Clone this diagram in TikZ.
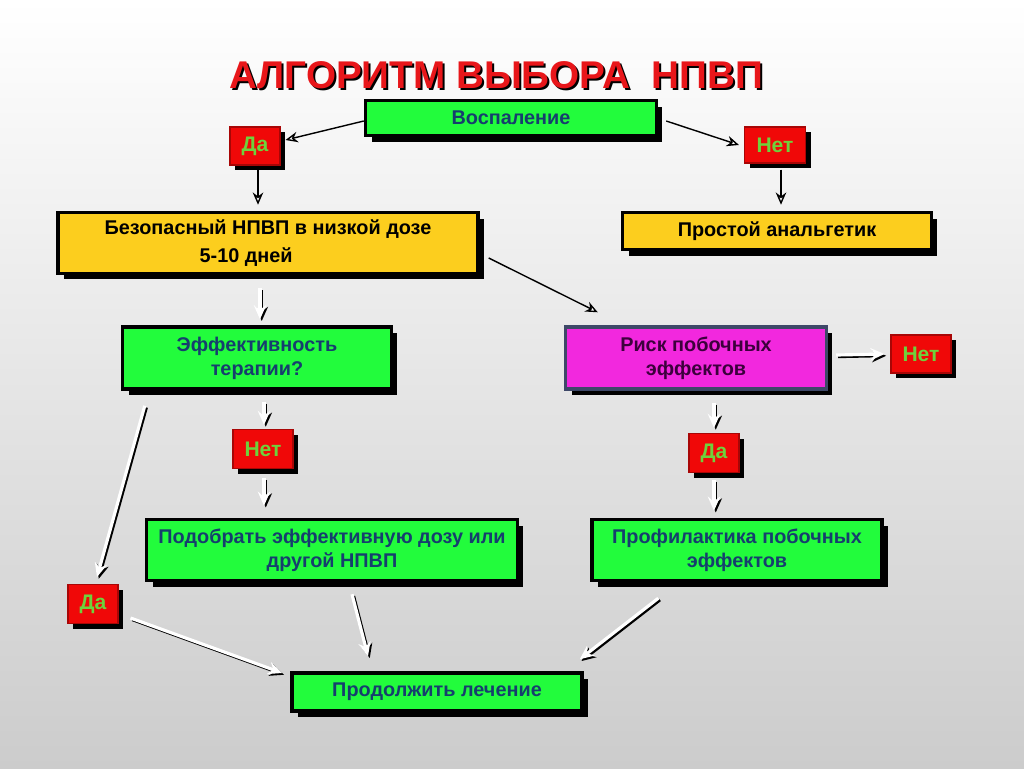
\documentclass[tikz,border=0pt]{standalone}
\usepackage{fontspec}
\setmainfont{Liberation Sans}
\usetikzlibrary{arrows.meta,shadows}
\definecolor{verdevivo}{RGB}{34,252,60}
\definecolor{amarillo}{RGB}{252,206,30}
\definecolor{magenta}{RGB}{242,40,222}
\definecolor{rojo}{RGB}{240,8,8}
\definecolor{textoazul}{RGB}{22,62,110}
\definecolor{textoverde}{RGB}{110,210,60}
\definecolor{textomorado}{RGB}{60,0,60}
\definecolor{pizarra}{RGB}{62,72,104}
\definecolor{titulorojo}{RGB}{232,22,26}
\tikzset{
  caja/.style={
    draw=black,
    line width=2pt,
    align=center,
    inner sep=2pt,
    font=\fontsize{11.3}{13.5}\selectfont\bfseries,
    drop shadow={shadow xshift=0.12cm, shadow yshift=-0.12cm, fill=black, opacity=1}
  },
  verde/.style={caja, fill=verdevivo, text=textoazul},
  amarilla/.style={caja, fill=amarillo, text=black},
  rosa/.style={caja, fill=magenta, draw=pizarra, text=textomorado},
  resp/.style={
    draw=rojo!70!black,
    line width=0.6pt,
    fill=rojo,
    text=textoverde,
    inner sep=0pt,
    font=\fontsize{12}{14}\selectfont\bfseries,
    drop shadow={shadow xshift=0.1cm, shadow yshift=-0.1cm, fill=black, opacity=1}
  },
  titulo/.style={
    font=\fontsize{22}{25}\selectfont\bfseries,
    text=titulorojo
  },
  arrow/.style={
    draw=white,
    line width=1.8pt,
    -{Stealth[length=8pt,width=7pt,fill=white]},
    preaction={draw=black, line width=1.6pt, -{Stealth[length=8pt,width=7pt]},
      transform canvas={shift={(1pt,-1pt)}}}
  },
  linea/.style={
    draw=black,
    line width=0.8pt,
    -{Stealth[length=7pt,width=6pt,fill=white]}
  }
}
\begin{document}
\begin{tikzpicture}[x=0.02cm,y=-0.02cm]
\shade[top color=white, bottom color=black!20] (0,0) rectangle (1024,768);
\useasboundingbox (0,0) rectangle (1024,768);

% titulo
\node[titulo, text=black] (sombra) at (498,77) {АЛГОРИТМ ВЫБОРА\ \ НПВП};
\node[titulo] (titulo) at (496,75) {АЛГОРИТМ ВЫБОРА\ \ НПВП};

% cajas
\node[verde, minimum width=5.82cm, minimum height=0.70cm] (vosp) at (511,118) {\raisebox{-2pt}{Воспаление}};
\node[resp, minimum width=1.0cm, minimum height=0.76cm] (da1) at (255,146) {Да};
\node[resp, minimum width=1.22cm, minimum height=0.72cm] (net1) at (775,145) {Нет};

\node[amarilla, minimum width=8.4cm, minimum height=1.22cm] (bezop) at (268,243) {Безопасный НПВП в низкой дозе\\[2pt]5-10 дней\hspace*{2.2em}};
\node[amarilla, minimum width=6.18cm, minimum height=0.74cm] (prost) at (777,231) {Простой анальгетик};

\node[verde, minimum width=5.38cm, minimum height=1.24cm] (effekt) at (257,358) {Эффективность\\терапии?};
\node[rosa, minimum width=5.22cm, minimum height=1.24cm] (risk) at (696,358) {Риск побочных\\эффектов};
\node[resp, minimum width=1.2cm, minimum height=0.76cm] (net2) at (921,354) {Нет};

\node[resp, minimum width=1.2cm, minimum height=0.78cm] (net3) at (263,449) {Нет};
\node[resp, minimum width=1.0cm, minimum height=0.78cm] (da2) at (714,453) {Да};

\node[verde, minimum width=7.42cm, minimum height=1.22cm] (podob) at (332,550) {Подобрать эффективную дозу или\\другой НПВП};
\node[verde, minimum width=5.8cm, minimum height=1.22cm] (profil) at (737,550) {Профилактика побочных\\эффектов};
\node[resp, minimum width=1.0cm, minimum height=0.78cm] (da3) at (93,604) {Да};

\node[verde, minimum width=5.8cm, minimum height=0.76cm] (prodol) at (437,692) {Продолжить лечение};

% flechas
\draw[linea] ([shift={(0,3)}]vosp.west) -- ([shift={(5,-6)}]da1.east);
\draw[linea] ([shift={(8,3)}]vosp.east) -- ([shift={(-5,0)}]net1.west);
\draw[linea] ([shift={(3,0)}]da1.south) -- ([shift={(3,-6)}]da1.south |- bezop.north);
\draw[linea] ([shift={(6,6)}]net1.south) -- ([shift={(6,-6)}]net1.south |- prost.north);
\draw[linea] ([shift={(9,15)}]bezop.east) -- ([shift={(34,-13)}]risk.north west);

\draw[arrow] ([shift={(3,13)}]bezop.south -| effekt.north) -- ([shift={(3,-6)}]effekt.north);
\draw[arrow] ([shift={(7,11)}]effekt.south) -- ([shift={(1,-4)}]net3.north);
\draw[arrow] ([shift={(1,9)}]net3.south) -- ([shift={(1,-12)}]net3.south |- podob.north);
\draw[arrow] ([shift={(24,15)}]effekt.south west) -- ([shift={(4,-7)}]da3.north);

\draw[arrow] ([shift={(8,-3)}]risk.east) -- ([shift={(-6,0)}]net2.west);
\draw[arrow] ([shift={(18,12)}]risk.south) -- ([shift={(0,-5)}]da2.north);
\draw[arrow] ([shift={(0,7)}]da2.south) -- ([shift={(0,-7)}]da2.south |- profil.north);

\draw[arrow] ([shift={(20,12)}]podob.south) -- ([shift={(-69,-15)}]prodol.north);
\draw[arrow] ([shift={(68,16)}]profil.south west) -- ([shift={(-4,-12)}]prodol.north east);
\draw[arrow] ([shift={(12,14)}]da3.east) -- ([shift={(-8,-19)}]prodol.west);
\end{tikzpicture}
\end{document}
